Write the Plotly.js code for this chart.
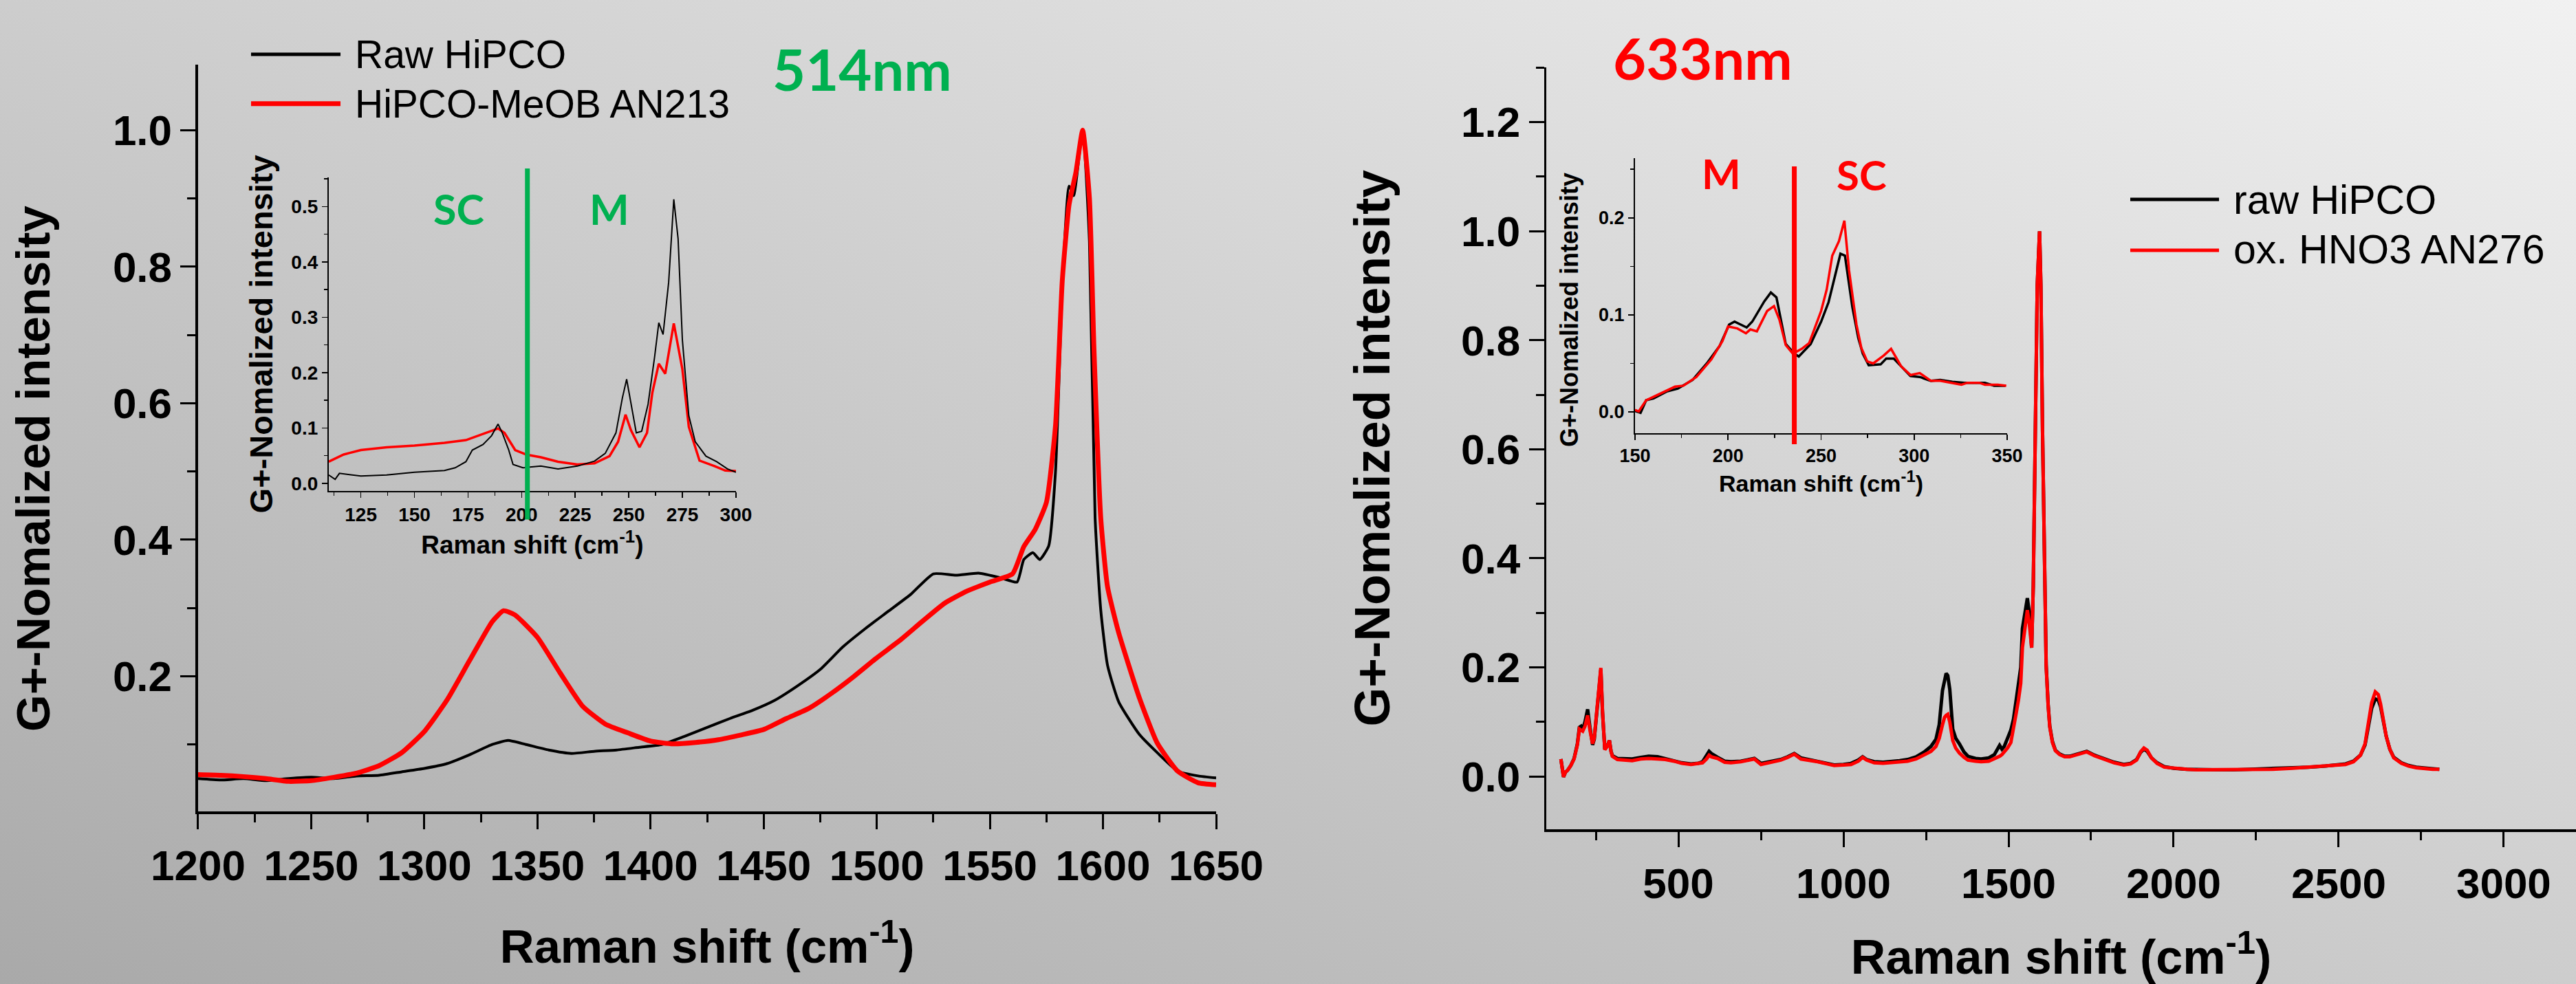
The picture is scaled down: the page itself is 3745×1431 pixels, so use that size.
<!DOCTYPE html>
<html>
<head>
<meta charset="utf-8">
<script src="https://cdn.plot.ly/plotly-3.0.1.min.js"></script>
<style>
  html, body { margin: 0; padding: 0; width: 3745px; height: 1431px; overflow: hidden;
    background: linear-gradient(to top right, #a9a9a9 0%, #cdcdcd 50%, #f1f1f1 100%); }
  #chart { width: 3745px; height: 1431px; }
</style>
</head>
<body>
<div id="chart"></div>
<script>
// ---------- 514 nm, main panel ----------
const x514Raw = [1200,1210,1220,1230,1240,1250,1260,1270,1280,1290,1300,1310,1320,1330,1337,1345,1355,1365,1375,1385,1395,1405,1415,1425,1435,1445,1455,1465,1475,1485,1495,1505,1515,1525,1535,1545,1555,1562,1565,1569,1572,1576,1579,1582,1585,1587,1591,1594,1596.5,1599,1602,1607,1616,1624,1633,1642,1650];
const y514Raw = [0.050,0.048,0.050,0.047,0.050,0.052,0.050,0.054,0.055,0.060,0.065,0.072,0.085,0.100,0.106,0.100,0.092,0.087,0.090,0.092,0.096,0.100,0.112,0.125,0.138,0.150,0.165,0.186,0.210,0.243,0.270,0.295,0.320,0.350,0.348,0.351,0.344,0.338,0.371,0.381,0.371,0.391,0.500,0.769,0.918,0.904,1.000,0.837,0.432,0.297,0.216,0.162,0.115,0.088,0.061,0.054,0.051];
const x514MeOB = [1200,1210,1220,1230,1240,1250,1260,1270,1280,1290,1300,1310,1320,1330,1335,1340,1350,1360,1370,1380,1390,1400,1410,1420,1430,1440,1450,1460,1470,1480,1490,1500,1510,1520,1530,1540,1550,1560,1565,1570,1575,1579,1582,1585,1588,1591,1594,1596,1599,1602,1607,1616,1624,1633,1642,1650];
const y514MeOB = [0.056,0.055,0.053,0.050,0.046,0.047,0.052,0.058,0.069,0.088,0.119,0.165,0.223,0.280,0.296,0.290,0.257,0.205,0.156,0.130,0.117,0.105,0.101,0.103,0.107,0.114,0.122,0.138,0.153,0.175,0.200,0.227,0.252,0.280,0.307,0.325,0.338,0.350,0.390,0.415,0.455,0.567,0.780,0.891,0.938,1.000,0.900,0.680,0.432,0.331,0.263,0.169,0.102,0.061,0.044,0.041];

// ---------- 514 nm, RBM inset ----------
const xIn514Raw = [110,113,115,125,137,150,164,169,174,177,182,186,189,191,194,196,200.6,209,217,226,234,239,244,247,249,251,253.5,256,259,262,264,266,268.6,271,273,275,278,281,286,291,296,300];
const yIn514Raw = [0.015,0.007,0.018,0.013,0.015,0.020,0.023,0.028,0.039,0.060,0.070,0.086,0.107,0.091,0.060,0.034,0.028,0.031,0.026,0.031,0.040,0.054,0.091,0.154,0.188,0.143,0.091,0.094,0.143,0.227,0.290,0.269,0.363,0.513,0.442,0.259,0.122,0.075,0.049,0.039,0.026,0.020];
const xIn514MeOB = [110,117,125,137,150,164,174,180,189,192,197,202,209,217,226,234,241,245,248.5,251,255,258.5,261,264,267,271,275,278,283,290,295,300];
const yIn514MeOB = [0.039,0.052,0.060,0.065,0.068,0.073,0.078,0.086,0.099,0.091,0.060,0.052,0.047,0.039,0.034,0.036,0.049,0.075,0.124,0.096,0.065,0.091,0.164,0.216,0.198,0.289,0.206,0.102,0.041,0.031,0.023,0.022];
const divider514 = 202.7;

// ---------- 633 nm, main panel ----------
const x633 = [144,148,152,158,164,174,184,194,200,205,210,217,225,232,240,245,250,258,265,270,277,284,291,296,300,315,336,360,386,410,437,460,487,510,538,560,573,585,593,600,610,619,640,659,689,710,730,750,770,790,810,831,851,871,895,922,950,972,1000,1023,1045,1058,1070,1093,1120,1144,1170,1194,1220,1245,1265,1280,1290,1300,1306,1311,1316,1322,1331,1340,1351,1365,1377,1400,1417,1440,1457,1468,1473,1480,1487,1497,1507,1515,1522,1530,1537,1542,1547,1552,1557,1563,1570,1575,1581,1587,1594,1598,1603,1608,1614,1620,1625,1633,1642,1655,1670,1685,1703,1720,1737,1760,1793,1820,1849,1870,1888,1900,1910,1920,1933,1950,1972,2000,2040,2072,2120,2180,2241,2300,2360,2409,2460,2500,2521,2545,2566,2580,2588,2600,2611,2620,2627,2635,2644,2655,2667,2690,2712,2735,2757,2785,2805];
const y633HNO3 = [0.032,0.010,-0.001,0.008,0.011,0.020,0.032,0.058,0.087,0.085,0.083,0.092,0.112,0.085,0.060,0.070,0.100,0.160,0.199,0.120,0.049,0.055,0.066,0.045,0.037,0.031,0.030,0.029,0.032,0.033,0.032,0.031,0.028,0.024,0.022,0.023,0.025,0.032,0.039,0.036,0.035,0.033,0.026,0.025,0.027,0.029,0.032,0.022,0.025,0.027,0.030,0.035,0.041,0.032,0.030,0.027,0.023,0.020,0.021,0.022,0.028,0.035,0.030,0.025,0.024,0.025,0.026,0.028,0.032,0.039,0.046,0.055,0.070,0.095,0.108,0.112,0.114,0.100,0.066,0.052,0.043,0.035,0.030,0.028,0.027,0.028,0.032,0.035,0.037,0.040,0.045,0.052,0.062,0.085,0.112,0.140,0.171,0.236,0.260,0.290,0.305,0.280,0.236,0.350,0.633,0.900,1.000,0.900,0.633,0.380,0.202,0.130,0.090,0.062,0.047,0.040,0.036,0.036,0.039,0.043,0.045,0.038,0.030,0.025,0.021,0.023,0.030,0.045,0.052,0.048,0.034,0.024,0.017,0.015,0.013,0.012,0.012,0.012,0.013,0.013,0.015,0.017,0.019,0.020,0.022,0.027,0.039,0.060,0.090,0.135,0.155,0.150,0.133,0.105,0.074,0.050,0.034,0.024,0.019,0.016,0.014,0.013,0.013];
const y633Raw = [0.032,0.010,-0.001,0.008,0.011,0.020,0.033,0.060,0.090,0.092,0.086,0.100,0.123,0.090,0.058,0.068,0.098,0.158,0.196,0.118,0.050,0.055,0.066,0.046,0.038,0.033,0.032,0.032,0.035,0.037,0.036,0.033,0.029,0.025,0.023,0.024,0.027,0.038,0.046,0.042,0.038,0.035,0.028,0.027,0.028,0.030,0.033,0.024,0.026,0.028,0.031,0.036,0.042,0.034,0.031,0.028,0.024,0.021,0.022,0.024,0.030,0.036,0.031,0.027,0.026,0.027,0.029,0.031,0.036,0.045,0.055,0.068,0.095,0.158,0.180,0.189,0.185,0.160,0.087,0.070,0.060,0.045,0.037,0.033,0.032,0.034,0.040,0.050,0.057,0.050,0.055,0.070,0.085,0.105,0.135,0.160,0.200,0.271,0.290,0.315,0.327,0.300,0.236,0.350,0.633,0.900,1.000,0.900,0.633,0.380,0.205,0.132,0.092,0.064,0.048,0.041,0.037,0.037,0.040,0.044,0.046,0.039,0.031,0.026,0.022,0.024,0.031,0.044,0.050,0.046,0.034,0.025,0.018,0.015,0.013,0.012,0.012,0.012,0.013,0.014,0.015,0.017,0.019,0.021,0.023,0.028,0.039,0.058,0.085,0.125,0.142,0.140,0.128,0.103,0.074,0.050,0.035,0.025,0.020,0.017,0.015,0.014,0.013];

// ---------- 633 nm, RBM inset ----------
const xIn633Raw = [150,153,156,160,167,173,181,189,195.5,200.6,203.5,210,213,219.5,223,226,231,235.6,238,241,244.4,250,254,260.4,262.8,266.8,270,272.4,275.6,282,285,289,293,298,303,309,314,320.5,327,338,343,349];
const yIn633Raw = [0.001,-0.001,0.012,0.014,0.021,0.024,0.033,0.051,0.068,0.090,0.093,0.087,0.093,0.114,0.123,0.118,0.070,0.060,0.057,0.063,0.070,0.093,0.113,0.163,0.161,0.108,0.076,0.060,0.048,0.049,0.055,0.055,0.047,0.037,0.036,0.032,0.033,0.031,0.030,0.030,0.027,0.027];
const xIn633HNO3 = [150,152,156,163.5,171.5,176,183,191,197,200,205,209.6,212,215.5,221,224.7,227.6,231,234.8,239.6,243.6,250,253,256,259.6,262.5,265,269,271.6,274.8,278,283.6,287.6,293,298,303,309,314,320.5,325.4,328.6,335,338,345,349.5];
const yIn633HNO3 = [0.002,0.0005,0.012,0.019,0.026,0.027,0.036,0.054,0.073,0.088,0.086,0.081,0.085,0.083,0.104,0.109,0.095,0.069,0.060,0.065,0.071,0.104,0.126,0.161,0.176,0.197,0.146,0.090,0.066,0.052,0.050,0.058,0.065,0.047,0.038,0.040,0.032,0.032,0.030,0.028,0.030,0.030,0.028,0.028,0.027];
const divider633 = 235.6;

// ---------- labels ----------
const names514 = ['Raw HiPCO', 'HiPCO-MeOB AN213'];
const names633 = ['raw HiPCO', 'ox. HNO3 AN276'];
const yTitle = 'G+-Nomalized intensity';
const xTitle = 'Raman shift (cm<sup>-1</sup>)';

const ARIAL = 'Liberation Sans, Arial, sans-serif';
const CAL = 'Lato, Carlito, Calibri, sans-serif';
const GREEN = '#00B050';
const RED = '#FF0000';

const traces = [
  {x: x514Raw, y: y514Raw, name: names514[0], type: 'scatter', mode: 'lines', xaxis: 'x', yaxis: 'y',
   line: {color: '#000', width: 4, shape: 'spline', smoothing: 0.5}},
  {x: x514MeOB, y: y514MeOB, name: names514[1], type: 'scatter', mode: 'lines', xaxis: 'x', yaxis: 'y',
   line: {color: RED, width: 7, shape: 'spline', smoothing: 0.5}},
  {x: xIn514MeOB, y: yIn514MeOB, name: names514[1], type: 'scatter', mode: 'lines', xaxis: 'x2', yaxis: 'y2',
   line: {color: RED, width: 3.5}},
  {x: xIn514Raw, y: yIn514Raw, name: names514[0], type: 'scatter', mode: 'lines', xaxis: 'x2', yaxis: 'y2',
   line: {color: '#000', width: 2}},
  {x: x633, y: y633Raw, name: names633[0], type: 'scatter', mode: 'lines', xaxis: 'x3', yaxis: 'y3',
   line: {color: '#000', width: 5}},
  {x: x633, y: y633HNO3, name: names633[1], type: 'scatter', mode: 'lines', xaxis: 'x3', yaxis: 'y3',
   line: {color: RED, width: 5}},
  {x: xIn633Raw, y: yIn633Raw, name: names633[0], type: 'scatter', mode: 'lines', xaxis: 'x4', yaxis: 'y4',
   line: {color: '#000', width: 3.5}},
  {x: xIn633HNO3, y: yIn633HNO3, name: names633[1], type: 'scatter', mode: 'lines', xaxis: 'x4', yaxis: 'y4',
   line: {color: RED, width: 3.5}}
];

function mainAxis(extra) {
  return Object.assign({
    showline: true, linecolor: '#000', linewidth: 4, mirror: false,
    showgrid: false, zeroline: false,
    ticks: 'outside', ticklen: 22, tickwidth: 3, tickcolor: '#000',
    tickfont: {family: ARIAL, size: 62, color: '#000', weight: 'bold'},
    fixedrange: true
  }, extra);
}
function insetAxis(extra) {
  return Object.assign({
    showline: true, linecolor: '#000', linewidth: 2, mirror: false,
    showgrid: false, zeroline: false,
    ticks: 'outside', ticklen: 8, tickwidth: 1.5, tickcolor: '#000',
    fixedrange: true
  }, extra);
}
const titleFont = (s) => ({family: ARIAL, size: s, color: '#000', weight: 'bold'});

// annotation helper (paper coordinates, explicit anchors)
function note(text, x, y, font, extra) {
  return Object.assign({text: text, xref: 'paper', yref: 'paper', x: x, y: y, showarrow: false,
    xanchor: 'center', yanchor: 'middle', font: font}, extra || {});
}
// legend key helper (paper coordinates)
function key(x0, x1, y, color, width) {
  return {type: 'line', xref: 'paper', yref: 'paper', x0: x0, x1: x1, y0: y, y1: y,
    line: {color: color, width: width}};
}

const layout = {
  width: 3745, height: 1431,
  margin: {l: 0, r: 0, t: 0, b: 0, pad: 0},
  paper_bgcolor: 'rgba(0,0,0,0)', plot_bgcolor: 'rgba(0,0,0,0)',
  font: {family: ARIAL, color: '#000'},
  showlegend: false,
  // left main
  xaxis: mainAxis({domain: [0.0769, 0.4721], range: [1200, 1650], anchor: 'y',
    tickmode: 'linear', tick0: 1200, dtick: 50, tickformat: 'd',
    minor: {ticks: 'outside', ticklen: 12, tickwidth: 3, tickcolor: '#000', dtick: 25, tick0: 1200},
    title: {text: xTitle, font: titleFont(69), standoff: 60}}),
  yaxis: mainAxis({domain: [0.1754, 0.9343], range: [0.002, 1.096], anchor: 'x', linewidth: 3.5,
    tickmode: 'linear', tick0: 0, dtick: 0.2, tickformat: '.1f',
    minor: {ticks: 'outside', ticklen: 12, tickwidth: 3, tickcolor: '#000', dtick: 0.1, tick0: 0}}),
  // left inset
  xaxis2: insetAxis({domain: [0.1276, 0.2857], range: [110, 300], anchor: 'y2',
    tickmode: 'linear', tick0: 0, dtick: 25,
    minor: {ticks: 'outside', ticklen: 5, tickwidth: 1.5, tickcolor: '#000', dtick: 12.5, tick0: 0},
    tickfont: {family: ARIAL, size: 28, color: '#000', weight: 'bold'},
    title: {text: xTitle, font: titleFont(37), standoff: 16}}),
  yaxis2: insetAxis({domain: [0.5010, 0.8199], range: [-0.014, 0.553], anchor: 'x2',
    tickmode: 'linear', tick0: 0, dtick: 0.1, tickformat: '.1f',
    minor: {ticks: 'outside', ticklen: 5, tickwidth: 1.5, tickcolor: '#000', dtick: 0.05, tick0: 0},
    tickfont: {family: ARIAL, size: 28, color: '#000', weight: 'bold'},
    title: {text: yTitle, font: titleFont(47), standoff: 12}}),
  // right main
  xaxis3: mainAxis({domain: [0.6003, 1.0], range: [100, 3219], anchor: 'y3',
    tickmode: 'linear', tick0: 0, dtick: 500, tickformat: 'd',
    minor: {ticks: 'outside', ticklen: 12, tickwidth: 3, tickcolor: '#000', dtick: 250, tick0: 0},
    title: {text: xTitle, font: titleFont(70), standoff: 70}}),
  yaxis3: mainAxis({domain: [0.1572, 0.9318], range: [-0.097, 1.301], anchor: 'x3', linewidth: 3.5,
    tickmode: 'linear', tick0: 0, dtick: 0.2, tickformat: '.1f',
    minor: {ticks: 'outside', ticklen: 12, tickwidth: 3, tickcolor: '#000', dtick: 0.1, tick0: 0},
    title: {text: yTitle, font: titleFont(73), standoff: 80}}),
  // right inset
  xaxis4: insetAxis({domain: [0.6347, 0.7792], range: [150, 350], anchor: 'y4',
    tickmode: 'linear', tick0: 0, dtick: 50,
    minor: {ticks: 'outside', ticklen: 5, tickwidth: 1.5, tickcolor: '#000', dtick: 25, tick0: 0},
    tickfont: {family: ARIAL, size: 27, color: '#000', weight: 'bold'},
    title: {text: xTitle, font: titleFont(34), standoff: 14}}),
  yaxis4: insetAxis({domain: [0.5597, 0.8393], range: [-0.022, 0.2615], anchor: 'x4',
    tickmode: 'linear', tick0: 0, dtick: 0.1, tickformat: '.1f',
    minor: {ticks: 'outside', ticklen: 5, tickwidth: 1.5, tickcolor: '#000', dtick: 0.05, tick0: 0},
    tickfont: {family: ARIAL, size: 27, color: '#000', weight: 'bold'}}),
  shapes: [
    {type: 'line', xref: 'x2', yref: 'paper', x0: divider514, x1: divider514, y0: 0.472, y1: 0.8288,
     line: {color: GREEN, width: 7}},
    {type: 'line', xref: 'x4', yref: 'paper', x0: divider633, x1: divider633, y0: 0.5486, y1: 0.8309,
     line: {color: RED, width: 7}},
    // legend keys
    key(0.09746, 0.13218, 0.9448, '#000', 5),
    key(0.09746, 0.13218, 0.8947, RED, 7),
    key(0.82697, 0.86142, 0.7973, '#000', 5),
    key(0.82697, 0.86142, 0.7456, RED, 5)
  ],
  annotations: [
    note('514nm', 0.3348, 0.9301, {family: CAL, size: 83, color: GREEN, weight: 'bold'}),
    note('633nm', 0.6609, 0.9413, {family: CAL, size: 83, color: RED, weight: 'bold'}),
    note('SC', 0.1781, 0.7876, {family: CAL, size: 61, color: GREEN, weight: 'bold'}),
    note('M', 0.2367, 0.7876, {family: CAL, size: 61, color: GREEN, weight: 'bold'}),
    note('M', 0.6681, 0.8239, {family: CAL, size: 60, color: RED, weight: 'bold'}),
    note('SC', 0.7228, 0.8225, {family: CAL, size: 60, color: RED, weight: 'bold'}),
    // left main y title and right inset y title
    note(yTitle, 0.01282, 0.5234, titleFont(69), {textangle: -90}),
    note(yTitle, 0.60908, 0.6848, titleFont(36), {textangle: -90}),
    // legend texts
    note(names514[0], 0.13725, 0.9448, {family: ARIAL, size: 57, color: '#000'}, {xanchor: 'left'}),
    note(names514[1], 0.13725, 0.8945, {family: ARIAL, size: 57, color: '#000'}, {xanchor: 'left'}),
    note(names633[0], 0.86649, 0.7966, {family: ARIAL, size: 59, color: '#000'}, {xanchor: 'left'}),
    note(names633[1], 0.86649, 0.7463, {family: ARIAL, size: 59, color: '#000'}, {xanchor: 'left'})
  ]
};

Plotly.newPlot('chart', traces, layout, {staticPlot: true, displayModeBar: false});
</script>
</body>
</html>
